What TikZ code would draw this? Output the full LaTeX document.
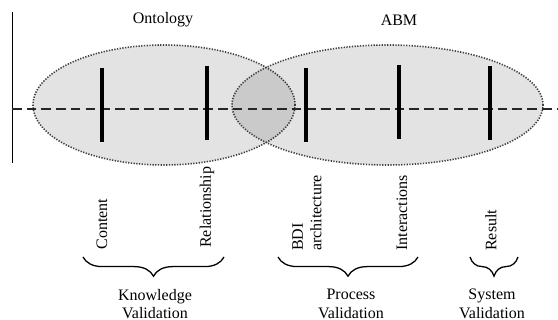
\documentclass[tikz,border=0pt]{standalone}
\usepackage{fontspec}
\setmainfont{Liberation Serif}
\usetikzlibrary{decorations.pathreplacing}

\begin{document}
\begin{tikzpicture}[
    x=0.625pt, y=0.625pt,
    region/.style={fill=black, fill opacity=0.11, draw=black!75, line width=1pt, dash pattern=on 0.8pt off 0.9pt},
    marker/.style={line width=2.6pt},
    vlabel/.style={rotate=90, anchor=west, inner sep=0pt, align=left, font={\fontsize{10}{11.5}\selectfont}},
    group/.style={align=center, inner sep=0pt, font={\fontsize{10}{11.5}\selectfont}},
    brace/.style={decorate, decoration={brace, mirror, amplitude=12pt}, line width=0.8pt}
]
    \useasboundingbox (0,0) rectangle (558,320);

    % Draw ontology and ABM regions
    \draw[region] (164,215) ellipse [x radius=131, y radius=60];
    \draw[region] (387.5,215) ellipse [x radius=155.5, y radius=60];

    \node (onto) at (163,300) {Ontology};
    \node (abm) at (399,300) {ABM};

    % Draw axes
    \draw [line width=0.6pt] (12,308) -- (12,157);
    \draw [line width=0.9pt, black!85, dash pattern=on 6pt off 3.2pt] (12,211) -- (558,211);

    % Draw validation points
    \draw [marker] (102,252) -- (102,178);
    \draw [marker] (207,254) -- (207,180);
    \draw [marker] (306,252) -- (306,178);
    \draw [marker] (399,255) -- (399,181);
    \draw [marker] (490,254) -- (490,180);

    % Draw labels
    \node[vlabel] (content) at (102,70) {Content};
    \node[vlabel] (relation) at (207,72) {Relationship};
    \node[vlabel] (bdi) at (307,69) {BDI\\architecture};
    \node[vlabel] (inter) at (402,69) {Interactions};
    \node[vlabel] (result) at (491,69) {Result};

    % Draw braces
    \coordinate (k_1) at (83,63);  \coordinate (k_2) at (224,63);
    \coordinate (p_1) at (278,63); \coordinate (p_2) at (418,63);
    \coordinate (s_1) at (470,63); \coordinate (s_2) at (518,63);
    \draw [brace] (k_1) -- (k_2);
    \draw [brace] (p_1) -- (p_2);
    \draw [brace] (s_1) -- (s_2);

    \node[group] (know) at (155,16) {Knowledge\\Validation};
    \node[group] (proc) at (351,16) {Process\\Validation};
    \node[group] (sys) at (492,16) {System\\Validation};

\end{tikzpicture}
\end{document}
